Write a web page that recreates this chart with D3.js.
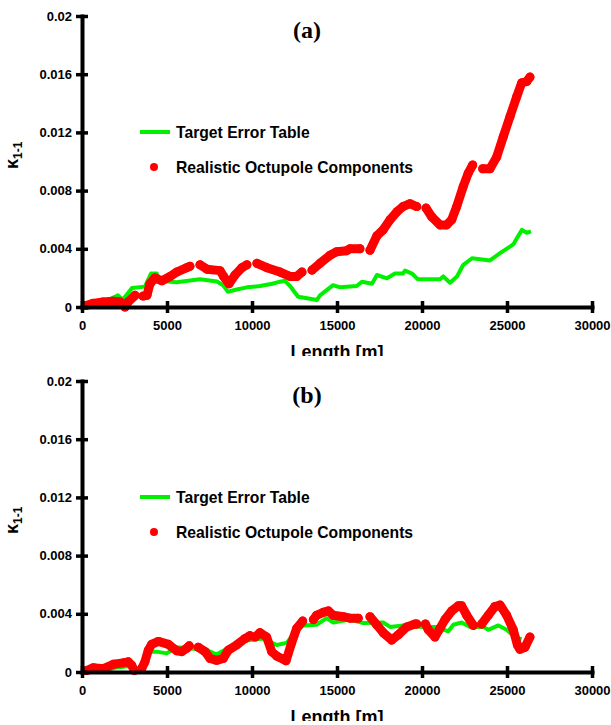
<!DOCTYPE html>
<html>
<head>
<meta charset="utf-8">
<script src="https://cdn.jsdelivr.net/npm/d3@7/dist/d3.min.js"></script>
<style>
  body { margin: 0; background: #fff; }
  text { font-family: "Liberation Sans", Arial, sans-serif; font-weight: bold; fill: #000; }
</style>
</head>
<body>
<div id="chart"></div>
<script>
// tick values
var xTicks = [0, 5000, 10000, 15000, 20000, 25000, 30000];
var yTicks = [0, 0.004, 0.008, 0.012, 0.016, 0.02];

// legend labels
var seriesNames = ["Target Error Table", "Realistic Octupole Components"];

// panel (a): [length m, kappa]
var targetA = [[176,0],[700,0.0002],[1200,0.0004],[1650,0.00055],[2120,0.0008],[2400,0.0005],[2940,0.0013],
  [3700,0.0014],[4060,0.0023],[4400,0.0023],[4600,0.0018],[5560,0.0017],[6940,0.0019],[7940,0.00175],
  [8300,0.0015],[8590,0.00105],[9100,0.0012],[9700,0.00135],[10470,0.00144],[11200,0.0016],[11650,0.00174],
  [11940,0.0018],[12240,0.00144],[12710,0.0007],[13240,0.0006],[13820,0.00048],[14000,0.0008],[14770,0.0015],
  [15180,0.00135],[16160,0.00144],[16470,0.00174],[17060,0.0016],[17350,0.0022],[17940,0.00197],[18410,0.0023],
  [18880,0.0023],[19000,0.0025],[19410,0.0023],[19760,0.0019],[20500,0.0019],[21060,0.0019],[21250,0.0021],
  [21650,0.00167],[22060,0.0021],[22430,0.0029],[22940,0.00335],[24000,0.0032],[24590,0.0037],[25370,0.0043],
  [25570,0.0047],[25880,0.0053],[26160,0.0051],[26410,0.0052]];

// null = gap in the dotted trace
var realA = [[240,0.0001],[650,0.00025],[1240,0.00035],[1830,0.0004],[2240,0.00035],[2530,0.0],[2710,0.00035],[3120,0.0008], null,
  [3590,0.00075],[3820,0.0008],[4000,0.0016],[4290,0.002],[4700,0.0018],[5180,0.0021],[5570,0.0024],[6160,0.0027],[6350,0.0028], null,
  [6940,0.0029],[7350,0.0026],[8120,0.0025],[8330,0.0021],[8650,0.0016],[9000,0.0022],[9410,0.0027],[9700,0.0029], null,
  [10290,0.003],[10880,0.0027],[11650,0.0024],[12240,0.0021],[12630,0.0021],[12940,0.0024], null,
  [13530,0.00253],[14000,0.003],[14590,0.00356],[14980,0.0038],[15570,0.00387],[15760,0.004],[16350,0.004], null,
  [16940,0.0039],[17350,0.0049],[17710,0.0053],[18120,0.006],[18530,0.00655],[18880,0.0069],[19290,0.0071],[19690,0.0069], null,
  [20240,0.0068],[20570,0.0062],[21060,0.00564],[21450,0.00564],[21750,0.006],[22040,0.0069],[22430,0.0083],[22720,0.0092],[22980,0.00976], null,
  [23570,0.0095],[24000,0.0095],[24390,0.0103],[24780,0.0117],[25180,0.0131],[25570,0.01445],[25860,0.0154],[26160,0.0155],[26350,0.0158]];

// panel (b)
var targetB = [[176,0],[700,0.0001],[1300,0.0001],[2000,0.0003],[2700,0.0004],[3310,0.0002],[3900,0.0012],[4100,0.0014],
  [4390,0.0014],[4980,0.00128],[5570,0.0017],[6550,0.0016],[7350,0.0015],[7920,0.0012],[8510,0.0016],[9100,0.002],
  [9880,0.0022],[10670,0.0023],[11450,0.00186],[12040,0.002],[12630,0.0029],[13020,0.0032],[13800,0.00325],[14390,0.0037],
  [14780,0.0034],[15760,0.0036],[16550,0.00337],[17720,0.0034],[18120,0.0031],[18900,0.0032],[20080,0.0031],[20860,0.0031],
  [21550,0.0028],[21840,0.00325],[22330,0.0034],[22820,0.0031],[23610,0.0031],[23900,0.0029],[24490,0.0032],[24980,0.0029],
  [25470,0.0024],[25860,0.00225]];

var realB = [[270,0.0001],[670,0.0003],[1250,0.00023],[1840,0.00053],[2430,0.00063],[2720,0.0007],[2920,0.00047],[3080,0.0001], null,
  [3510,0.00023],[3700,0.0007],[3900,0.0015],[4100,0.0019],[4490,0.0021],[5080,0.0019],[5570,0.00146],[5860,0.0014],[6160,0.00163],[6310,0.0018], null,
  [6840,0.0017],[7240,0.0014],[7530,0.00093],[7920,0.0008],[8310,0.00093],[8610,0.0015],[9100,0.00186],[9590,0.0023],[9880,0.0025], null,
  [10180,0.0024],[10470,0.0027],[10860,0.0024],[11160,0.0014],[11450,0.0011],[12000,0.00077],[12330,0.002],[12630,0.003],[12980,0.0035], null,
  [13610,0.0036],[13800,0.0039],[14190,0.0041],[14490,0.0042],[14780,0.0039],[15370,0.0038],[15760,0.0037],[16250,0.0037], null,
  [16940,0.0038],[17330,0.00325],[17720,0.0027],[18220,0.0022],[18610,0.00256],[19100,0.0031],[19590,0.0033],[19690,0.0033], null,
  [20200,0.0033],[20370,0.0029],[20760,0.0024],[21060,0.003],[21350,0.0036],[21750,0.0042],[22140,0.00455],[22330,0.00455],[22630,0.0039],[23020,0.0032], null,
  [23510,0.0033],[23900,0.0039],[24290,0.0045],[24590,0.0046],[24980,0.0039],[25370,0.0029],[25610,0.00186],[25760,0.00156],[26060,0.0017],[26350,0.0024]];

var width = 611, height = 725;
var green = "#00f000", red = "#ff0000";

var svg = d3.select("#chart").append("svg")
    .attr("width", width)
    .attr("height", height);

function panel(off, title, target, real, id) {
    var x = d3.scaleLinear().domain([0, 30000]).range([82, 592]);
    var y = d3.scaleLinear().domain([0, 0.02]).range([307 + off, 16 + off]);
    var g = svg.append("g");

    // title
    g.append("text")
        .attr("x", 307).attr("y", 38 + off)
        .attr("text-anchor", "middle")
        .style("font-family", "'Liberation Serif', 'Times New Roman', serif")
        .style("font-size", "24px")
        .text(title);

    var line = d3.line()
        .defined(function(d) { return d; })
        .x(function(d) { return x(d[0]); })
        .y(function(d) { return y(d[1]); });

    // green line
    g.append("path")
        .datum(target)
        .attr("fill", "none")
        .attr("stroke", green)
        .attr("stroke-width", 4)
        .attr("stroke-linejoin", "round")
        .attr("d", line);

    // red dotted trace: dense dots, drawn as thick band + dots
    g.append("path")
        .datum(real)
        .attr("fill", "none")
        .attr("stroke", red)
        .attr("stroke-width", 9)
        .attr("stroke-linecap", "round")
        .attr("stroke-linejoin", "round")
        .attr("d", line);

    g.selectAll(".dot")
        .data(real.filter(function(d) { return d; }))
        .enter().append("circle")
        .attr("cx", function(d) { return x(d[0]); })
        .attr("cy", function(d) { return y(d[1]); })
        .attr("r", 4.5)
        .attr("fill", red);

    // axes
    var yAxis = g.append("g")
        .attr("transform", "translate(82,0)")
        .call(d3.axisLeft(y).tickValues(yTicks).tickSizeInner(6).tickSizeOuter(0).tickPadding(4)
            .tickFormat(function(d) { return String(d); }));
    var xAxis = g.append("g")
        .attr("transform", "translate(0," + (307 + off) + ")")
        .call(d3.axisBottom(x).tickValues(xTicks).tickSizeInner(6).tickSizeOuter(0).tickPadding(8)
            .tickFormat(d3.format("d")));

    [yAxis, xAxis].forEach(function(a) {
        a.select(".domain").attr("stroke", "#000").attr("stroke-width", 4).attr("stroke-linecap", "square");
        a.selectAll(".tick text").style("font-size", "13px").attr("fill", "#000");
        a.selectAll(".tick line").attr("stroke", "#000").attr("stroke-width", 3.5);
    });
    yAxis.selectAll(".tick line").attr("x1", 6).attr("x2", -6);
    xAxis.selectAll(".tick line").attr("y1", -6).attr("y2", 6);

    // y label
    var yl = g.append("text")
        .attr("transform", "translate(18," + (169 + off) + ") rotate(-90)")
        .style("font-size", "18px");
    yl.append("tspan").text("\u03ba");
    yl.append("tspan").attr("dy", 4).style("font-size", "12px").text("1-1");

    // x label, cut off by the panel edge as in the figure
    svg.append("clipPath").attr("id", "clip" + id)
        .append("rect").attr("x", 0).attr("y", off).attr("width", width).attr("height", 356);
    g.append("text")
        .attr("clip-path", "url(#clip" + id + ")")
        .attr("x", 337).attr("y", 358 + off)
        .attr("text-anchor", "middle")
        .style("font-size", "18px")
        .text("Length [m]");

    // legend
    g.append("line")
        .attr("x1", 140).attr("x2", 170)
        .attr("y1", 132 + off).attr("y2", 132 + off)
        .attr("stroke", green).attr("stroke-width", 4);
    g.append("text").attr("x", 176).attr("y", 138 + off).style("font-size", "15.7px").text(seriesNames[0]);
    g.append("circle").attr("cx", 154).attr("cy", 167 + off).attr("r", 4).attr("fill", red);
    g.append("text").attr("x", 176).attr("y", 173 + off).style("font-size", "15.7px").text(seriesNames[1]);
}

panel(0, "(a)", targetA, realA, "a");
panel(365, "(b)", targetB, realB, "b");
</script>
</body>
</html>
